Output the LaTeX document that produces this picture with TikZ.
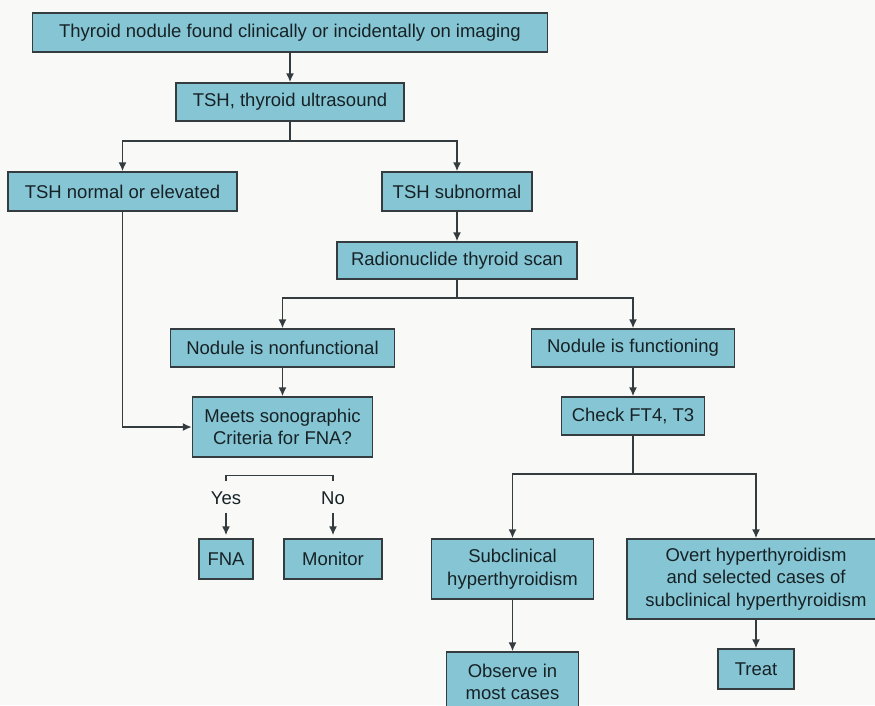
\documentclass[tikz,border=0pt]{standalone}
\usepackage{fontspec}
\setmainfont{Liberation Sans}
\usetikzlibrary{arrows.meta,positioning}
\definecolor{boxfill}{HTML}{86C5D3}
\definecolor{boxline}{HTML}{343C40}
\definecolor{ink}{HTML}{172226}
\definecolor{paper}{HTML}{F9F9F7}

\begin{document}
\begin{tikzpicture}[x=1pt,y=1pt,>={Latex[length=9pt,width=8pt]},
  box/.style={draw=boxline,fill=boxfill,line width=1.5pt,text=ink,align=center,inner sep=0pt,font=\fontsize{18.5}{22.5}\selectfont},
  lbl/.style={text=ink,inner sep=1pt,font=\fontsize{18.5}{22.5}\selectfont},
  conn/.style={draw=boxline,line width=1.5pt}]
  \fill[paper] (0,0) rectangle (875,-705);
  \useasboundingbox (0,0) rectangle (875,-705);
  \node[box,minimum width=515pt,minimum height=39pt] (found) at (290,-32.5) {Thyroid nodule found clinically or incidentally on imaging};
  \node[box,minimum width=228pt,minimum height=38pt] (tsh) at (290,-102) {TSH, thyroid ultrasound};
  \node[box,minimum width=229pt,minimum height=39pt] (normal) at (122.5,-191.5) {TSH normal or elevated};
  \node[box,minimum width=150pt,minimum height=39pt] (subnormal) at (457,-191.5) {TSH subnormal};
  \node[box,minimum width=240pt,minimum height=37pt] (scan) at (457,-260.5) {Radionuclide thyroid scan};
  \node[box,minimum width=224pt,minimum height=38pt] (nonfunc) at (282.5,-348) {Nodule is nonfunctional};
  \node[box,minimum width=203pt,minimum height=38pt] (func) at (633,-348) {Nodule is functioning};
  \node[box,minimum width=180pt,minimum height=60pt] (meets) at (282.5,-427) {Meets sonographic\\Criteria for FNA?};
  \node[box,minimum width=143pt,minimum height=38pt] (check) at (633,-416) {Check FT4, T3};
  \node[lbl] (yes) at (226,-498) {Yes};
  \node[lbl] (no) at (333,-498) {No};
  \node[box,minimum width=54pt,minimum height=40pt] (fna) at (226,-559) {FNA};
  \node[box,minimum width=98pt,minimum height=40pt] (monitor) at (333,-559) {Monitor};
  \node[box,minimum width=162pt,minimum height=60pt] (subclin) at (512.5,-569) {Subclinical\\hyperthyroidism};
  \node[box,minimum width=258pt,minimum height=80pt] (overt) at (756,-579) {Overt hyperthyroidism\\and selected cases of\\subclinical hyperthyroidism};
  \node[box,minimum width=132pt,minimum height=60pt] (observe) at (512.5,-682) {Observe in\\most cases};
  \node[box,minimum width=76pt,minimum height=40pt] (treat) at (756,-669) {Treat};
  % first split
  \draw[conn,->] (found) -- (tsh);
  \draw[conn] (tsh.south) -- ++(0,-19) coordinate (split1);
  \draw[conn,->] (split1) -| (normal);
  \draw[conn,->] (split1) -| (subnormal);
  \draw[conn,->] (subnormal) -- (scan);
  % scan result
  \draw[conn] (scan.south) -- ++(0,-18) coordinate (split2);
  \draw[conn,->] (split2) -| (nonfunc);
  \draw[conn,->] (split2) -| (func);
  \draw[conn,->] (nonfunc) -- (meets);
  \draw[conn,->] (normal) |- (meets);
  \draw[conn,->] (func) -- (check);
  % yes / no
  \draw[conn] ([yshift=9pt]yes.north) -- ++(0,6) -| ([yshift=9pt]no.north);
  \draw[conn,->,shorten >=3pt] ([yshift=-7pt]yes.south) -- (fna);
  \draw[conn,->,shorten >=3pt] ([yshift=-7pt]no.south) -- (monitor);
  % thyroid function
  \draw[conn] (check.south) -- ++(0,-38) coordinate (split3);
  \draw[conn,->] (split3) -| (subclin);
  \draw[conn,->] (split3) -| (overt);
  \draw[conn,->] (subclin) -- (observe);
  \draw[conn,->] (overt) -- (treat);
\end{tikzpicture}
\end{document}
